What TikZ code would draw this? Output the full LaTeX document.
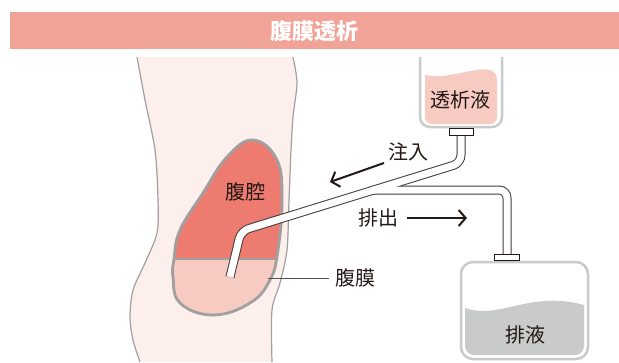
\documentclass[tikz,border=0pt]{standalone}
\usepackage{fontspec}
\newfontfamily\jpfont{Noto Sans CJK JP}
\usetikzlibrary{arrows.meta}

\definecolor{band}{HTML}{F2A398}
\definecolor{skin}{HTML}{FDEFEC}
\definecolor{skinline}{HTML}{A0A0A0}
\definecolor{cavity}{HTML}{EE7B70}
\definecolor{membrane}{HTML}{F8CBC2}
\definecolor{ink}{HTML}{231815}
\definecolor{bagline}{HTML}{C9CACA}
\definecolor{drainfluid}{HTML}{C9CACA}

% outline of the peritoneal cavity
\newcommand\organ{plot[smooth cycle, tension=0.7] coordinates {(253,140) (277,160) (282,200) (278,250) (270,280) (250,303) (213,315) (180,303) (173,277) (174,259) (180,230) (203,193) (227,157)}}

\begin{document}
\begin{tikzpicture}[x=1pt,y=-1pt,
	label/.style={font=\jpfont\fontsize{20}{20}\selectfont, text=ink, inner sep=0pt},
	tubeout/.style={line width=9pt, draw=ink!85, rounded corners=8pt},
	tubein/.style={line width=7pt, draw=white, rounded corners=8pt},
	joint/.style={draw=ink, fill=white, line width=0.9pt},
	flow/.style={line width=2pt, draw=ink, -{Straight Barb[length=7pt,width=16pt,line width=2pt]}},
	bag/.style={draw=bagline, line width=2.5pt}]
	\useasboundingbox (0,0) rectangle (619,362);

	% title band
	\fill[band] (10,12) rectangle (619,49);
	\node[font=\jpfont\bfseries\fontsize{22}{22}\selectfont, text=white] (title) at (314.5,31) {腹膜透析};

	% body
	\fill[skin] plot[smooth] coordinates {(137,57) (145,100) (155,150) (158,200) (157,233) (145,263) (133,290) (130,317) (133,340) (140,362)}
		-- plot[smooth] coordinates {(272,362) (272,310) (280,283) (287,250) (289,200) (291,150) (293,117) (297,83) (293,57)} -- cycle;
	\draw[skinline, line width=1.2pt] plot[smooth] coordinates {(137,57) (145,100) (155,150) (158,200) (157,233) (145,263) (133,290) (130,317) (133,340) (140,362)};
	\draw[skinline, line width=1.2pt] plot[smooth] coordinates {(272,362) (272,310) (280,283) (287,250) (289,200) (291,150) (293,117) (297,83) (293,57)};

	% cavity and membrane
	\fill[cavity] \organ;
	\begin{scope}
		\clip \organ;
		\fill[membrane] (160,259) rectangle (290,330);
		\draw[skinline, line width=2.5pt] (160,259) -- (290,259);
	\end{scope}
	\draw[skinline, line width=2.8pt] \organ;

	% dialysate bag
	\fill[membrane, rounded corners=7pt] (425,75) .. controls (450,80) and (475,66) .. (497,72) [rounded corners=7pt] -- (497,124) -- (425,124) [sharp corners] -- cycle;
	\draw[bag, rounded corners=10pt] (420,57) -- (420,127) -- (502,127) -- (502,57);

	% drain bag
	\fill[drainfluid] (465,308) .. controls (500,320) and (530,290) .. (584,305) [rounded corners=9pt] -- (584,355) -- (465,355) [sharp corners] -- cycle;
	\draw[bag, rounded corners=12pt] (461,262) rectangle (588,359);

	% tubes
	\coordinate (inlet) at (461,135);
	\coordinate (bend1) at (461,163);
	\coordinate (bend2) at (241,231);
	\coordinate (tip) at (230,277);
	\coordinate (branch) at (372,190);
	\coordinate (bend3) at (507,190);
	\coordinate (outlet) at (507,254);
	\draw[tubeout] (inlet) -- (bend1) -- (bend2) -- (tip);
	\draw[tubeout] (branch) -- (bend3) -- (outlet);
	\draw[tubein] ([yshift=-1pt]inlet) -- (bend1) -- (bend2) -- (tip);
	\draw[tubein] (branch) -- (bend3) -- ([yshift=-1pt]outlet);
	\draw[joint] (449,128) rectangle (473,135);
	\draw[joint] (494,254) rectangle (519,260);

	% labels
	\node[label] (cav) at (245,192) {腹腔};
	\node[label] (fluid) at (460,100) {透析液};
	\node[label] (inflow) at (408,152) {注入};
	\node[label] (outflow) at (378,218) {排出};
	\node[label, anchor=west] (peri) at (335,278) {腹膜};
	\node[label] (waste) at (525,335) {排液};

	% arrows and leader
	\coordinate (inA) at (384,163);
	\coordinate (inB) at (330,182);
	\coordinate (outA) at (407,218);
	\coordinate (outB) at (467,218);
	\coordinate (edge) at (268,278);
	\draw[flow] (inA) -- (inB);
	\draw[flow] (outA) -- (outB);
	\draw[ink!75, line width=1pt] (edge) -- ([xshift=-6pt]peri.west);
\end{tikzpicture}
\end{document}
